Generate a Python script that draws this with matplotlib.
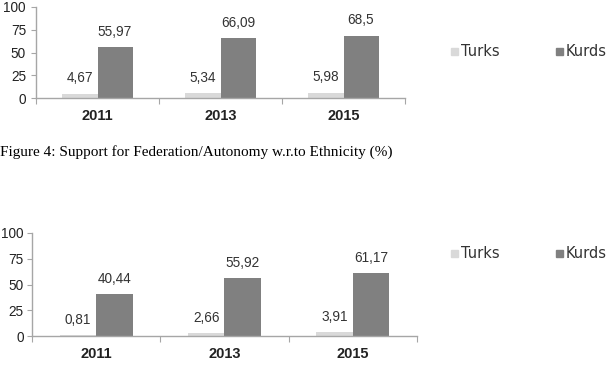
import matplotlib
matplotlib.use("Agg")
import matplotlib.pyplot as plt
import numpy as np

years = ["2011", "2013", "2015"]
turks_1 = [4.67, 5.34, 5.98]
kurds_1 = [55.97, 66.09, 68.5]
turks_2 = [0.81, 2.66, 3.91]
kurds_2 = [40.44, 55.92, 61.17]
series_names = ["Turks", "Kurds"]
caption = "Figure 4: Support for Federation/Autonomy w.r.to Ethnicity (%)"

W, H = 613, 369
fig = plt.figure(figsize=(W / 100, H / 100), dpi=100)
fig.patch.set_facecolor("white")

c_turks = "#d9d9d9"
c_kurds = "#808080"
axis_col = "#a6a6a6"


def fmt(v):
    s = f"{v:.2f}".rstrip("0").rstrip(".")
    return s.replace(".", ",")


def panel(px_left, px_right, px_y0, px_y100, turks, kurds, legend_y, ypad):
    ax = fig.add_axes([px_left / W, (H - px_y0) / H,
                       (px_right - px_left) / W, (px_y0 - px_y100) / H])
    x = np.arange(len(years))
    bw = 0.285
    b1 = ax.bar(x - bw / 2, turks, bw, color=c_turks, label=series_names[0])
    b2 = ax.bar(x + bw / 2, kurds, bw, color=c_kurds, label=series_names[1])
    for bars, vals in ((b1, turks), (b2, kurds)):
        for r, v in zip(bars, vals):
            ax.annotate(fmt(v), (r.get_x() + r.get_width() / 2, v),
                        xytext=(0, 6), textcoords="offset points",
                        ha="center", va="bottom", fontsize=9.8,
                        family="Liberation Sans", color="#333333")
    ax.set_xlim(-0.5, len(years) - 0.5)
    ax.set_ylim(0, 100)
    ax.set_yticks([0, 25, 50, 75, 100])
    ax.tick_params(axis="y", length=3.6, color=axis_col, labelsize=9.8,
                   labelcolor="#222222", pad=ypad)
    for t in ax.get_yticklabels():
        t.set_family("Liberation Sans")
    ax.set_xticks(np.arange(-0.5, len(years), 1.0))
    ax.set_xticklabels([])
    ax.tick_params(axis="x", length=4, color=axis_col)
    ax.set_xticks(x, minor=True)
    ax.set_xticklabels(years, minor=True, fontsize=10.5, fontweight="bold",
                       family="Liberation Sans", color="#222222")
    ax.tick_params(axis="x", which="minor", length=0, pad=8)
    for s in ("top", "right"):
        ax.spines[s].set_visible(False)
    for s in ("left", "bottom"):
        ax.spines[s].set_color(axis_col)
        ax.spines[s].set_linewidth(1.0)
    ax.set_facecolor("none")
    # legend
    for name, col, mx, tx in ((series_names[0], c_turks, 451, 461),
                              (series_names[1], c_kurds, 556, 566)):
        fig.patches.append(plt.Rectangle((mx / W, (H - legend_y - 3.5) / H),
                                         7 / W, 7 / H, color=col,
                                         transform=fig.transFigure))
        fig.text(tx / W, (H - legend_y) / H, name, fontsize=10.5,
                 family="DejaVu Sans", color="#333333", va="center", ha="left")
    return ax


panel(36, 405, 98, 7, turks_1, kurds_1, 51, 3.6)
panel(32, 417, 336, 233, turks_2, kurds_2, 253, 2.5)

fig.text(0 / W, (H - 152) / H, caption, fontsize=11,
         family="Liberation Serif", color="black", va="center", ha="left")

fig.savefig("out.png", dpi=100)
